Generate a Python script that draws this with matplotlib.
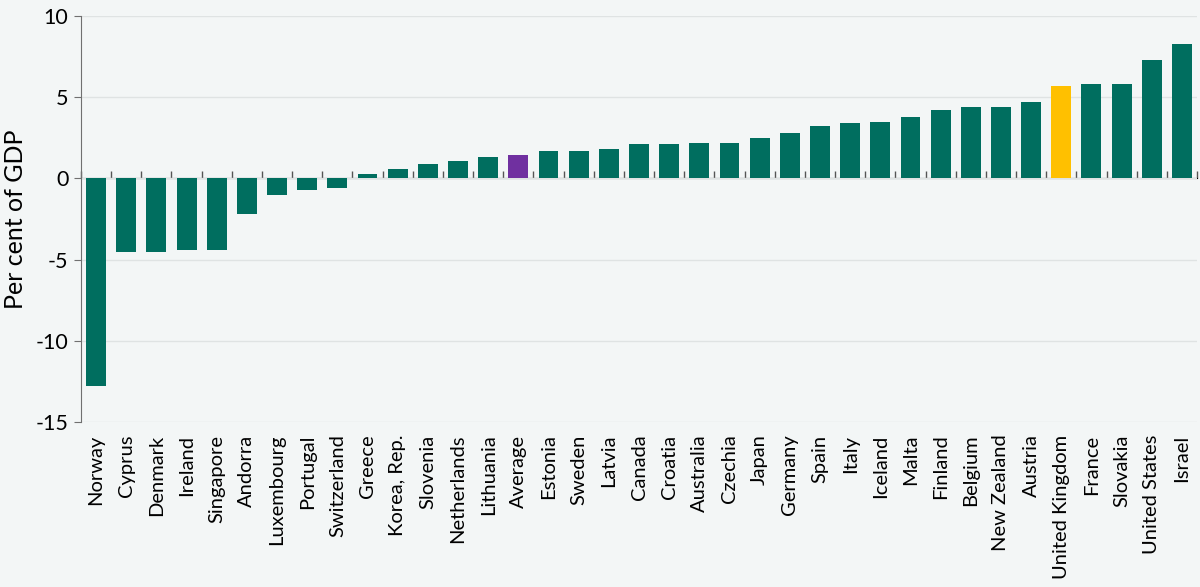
import matplotlib
matplotlib.use('Agg')
import matplotlib.pyplot as plt
import numpy as np

plt.rcParams['font.family'] = ['Lato', 'DejaVu Sans']

countries = ['Norway', 'Cyprus', 'Denmark', 'Ireland', 'Singapore', 'Andorra',
             'Luxembourg', 'Portugal', 'Switzerland', 'Greece', 'Korea, Rep.',
             'Slovenia', 'Netherlands', 'Lithuania', 'Average', 'Estonia',
             'Sweden', 'Latvia', 'Canada', 'Croatia', 'Australia', 'Czechia',
             'Japan', 'Germany', 'Spain', 'Italy', 'Iceland', 'Malta', 'Finland',
             'Belgium', 'New Zealand', 'Austria', 'United Kingdom', 'France',
             'Slovakia', 'United States', 'Israel']
values = [-12.8, -4.5, -4.5, -4.4, -4.4, -2.2,
          -1.0, -0.7, -0.6, 0.3, 0.6,
          0.9, 1.1, 1.3, 1.45, 1.7,
          1.7, 1.8, 2.1, 2.1, 2.2, 2.2,
          2.5, 2.8, 3.2, 3.4, 3.5, 3.8, 4.2,
          4.4, 4.4, 4.7, 5.7, 5.8,
          5.8, 7.3, 8.3]
highlight = {'Average': '#7030a0', 'United Kingdom': '#ffc000'}
base_color = '#006e5f'
bg = '#f3f6f6'

colors = [highlight.get(c, base_color) for c in countries]
x = np.arange(len(countries))

fig = plt.figure(figsize=(12, 5.87), dpi=100, facecolor=bg)
ax = fig.add_axes([0.0675, 0.281, 0.93, 0.6917], facecolor=bg)

ax.bar(x, values, width=0.66, color=colors, zorder=3)

ax.set_ylim(-15, 10)
ax.set_xlim(-0.5, len(countries) - 0.5)
ax.set_yticks([-15, -10, -5, 0, 5, 10])
ax.set_yticklabels(['-15', '-10', '-5', '0', '5', '10'])
ax.grid(axis='y', color='#dfe3e3', linewidth=1, zorder=0)
ax.tick_params(axis='y', labelsize=15.5, length=5, color='#707070', pad=4)
ax.set_ylabel('Per cent of GDP', fontsize=18, labelpad=6)

# category labels at the bottom, no ticks
ax.set_xticks(x)
ax.set_xticklabels(countries, rotation=90, fontsize=14.5)
ax.tick_params(axis='x', length=0, pad=9)

for s in ['top', 'right', 'bottom']:
    ax.spines[s].set_visible(False)
ax.spines['left'].set_color('#707070')

# zero line with ticks between categories
zero = ax.secondary_xaxis(15 / 25)
zero.set_xticks(np.arange(-0.5, len(countries), 1.0))
zero.set_xticklabels([])
zero.tick_params(length=5, color='#555555', width=1)
zero.spines['bottom'].set_color('#555555')

fig.savefig('out.png', dpi=100, facecolor=bg)
